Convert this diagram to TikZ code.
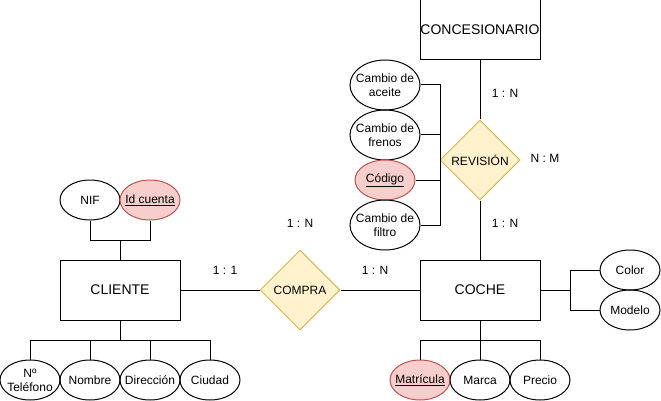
\documentclass[tikz,border=0pt]{standalone}
\usepackage{fontspec}
\setmainfont{Liberation Sans}
\usetikzlibrary{shapes.geometric}
\definecolor{erpink}{HTML}{F8CECC}
\definecolor{erpinkline}{HTML}{B85450}
\definecolor{eryellow}{HTML}{FFF2CC}
\definecolor{eryellowline}{HTML}{D6B656}

\begin{document}
\begin{tikzpicture}[x=1pt, y=-1pt,
    entity/.style={draw, line width=1pt, minimum width=120pt, minimum height=60pt, inner sep=0pt, font=\fontsize{14}{16}\selectfont},
    attr/.style={ellipse, draw, line width=1pt, minimum width=60pt, minimum height=40pt, inner xsep=-8pt, inner ysep=0pt, align=center, font=\fontsize{12}{14}\selectfont},
    keyattr/.style={attr, draw=erpinkline, fill=erpink},
    relation/.style={diamond, draw=eryellowline, fill=eryellow, line width=1pt, minimum width=80pt, minimum height=80pt, inner sep=0pt, font=\fontsize{12}{14}\selectfont},
    card/.style={inner sep=0pt, font=\fontsize{12}{14}\selectfont},
    link/.style={line width=1pt}
  ]
  \useasboundingbox (0,0) rectangle (661,401);

  \node[entity] (conc) at (480,30) {CONCESIONARIO};
  \node[relation] (rev) at (480,160) {REVISIÓN};
  \node[entity] (coche) at (480,290) {COCHE};
  \node[relation] (compra) at (300,290) {COMPRA};
  \node[entity] (cliente) at (120,290) {CLIENTE};

  \node[attr, minimum width=70pt, minimum height=50pt] (aceite) at (385,85) {Cambio de\\aceite};
  \node[attr, minimum width=70pt, minimum height=50pt] (frenos) at (385,135) {Cambio de\\frenos};
  \node[keyattr] (codigo) at (385,180) {\underline{Código}};
  \node[attr, minimum width=70pt, minimum height=50pt] (filtro) at (385,225) {Cambio de\\filtro};

  \node[attr] (nif) at (90,200) {NIF};
  \node[keyattr] (idc) at (150,200) {\underline{Id cuenta}};
  \node[attr] (tel) at (30,380) {Nº\\Teléfono};
  \node[attr] (nombre) at (90,380) {Nombre};
  \node[attr] (dir) at (150,380) {Dirección};
  \node[attr] (ciudad) at (210,380) {Ciudad};

  \node[keyattr] (mat) at (420,380) {\underline{Matrícula}};
  \node[attr] (marca) at (480,380) {Marca};
  \node[attr] (precio) at (540,380) {Precio};
  \node[attr] (color) at (630,270) {Color};
  \node[attr] (modelo) at (630,310) {Modelo};

  \node[card] (cardconc) at (505,93) {1 : N};
  \node[card] (cardcoche) at (505,223) {1 : N};
  \node[card] (cardrev) at (545,158) {N : M};
  \node[card] (cardcli) at (225,270) {1 : 1};
  \node[card] (cardcompra) at (300,223) {1 : N};
  \node[card] (cardcar) at (375,270) {1 : N};

  \draw[link] (conc) -- (rev);
  \draw[link] (rev) -- (coche);
  \draw[link] (cliente) -- (compra);
  \draw[link] (compra) -- (coche);

  \coordinate (revjoin) at (440,160);
  \foreach \a in {aceite,frenos,codigo,filtro}
    \draw[link] (\a.east) -| (revjoin);
  \draw[link] (revjoin) -- (rev.west);

  \coordinate (clitop) at (120,240);
  \draw[link] (cliente) -- (clitop);
  \foreach \a in {nif,idc}
    \draw[link] (\a.south) |- (clitop);

  \coordinate (clibot) at (120,340);
  \draw[link] (cliente) -- (clibot);
  \foreach \a in {tel,nombre,dir,ciudad}
    \draw[link] (\a.north) |- (clibot);

  \coordinate (cochebot) at (480,340);
  \draw[link] (coche) -- (cochebot);
  \foreach \a in {mat,marca,precio}
    \draw[link] (\a.north) |- (cochebot);

  \coordinate (cocheright) at (570,290);
  \draw[link] (coche) -- (cocheright);
  \foreach \a in {color,modelo}
    \draw[link] (\a.west) -| (cocheright);
\end{tikzpicture}
\end{document}
